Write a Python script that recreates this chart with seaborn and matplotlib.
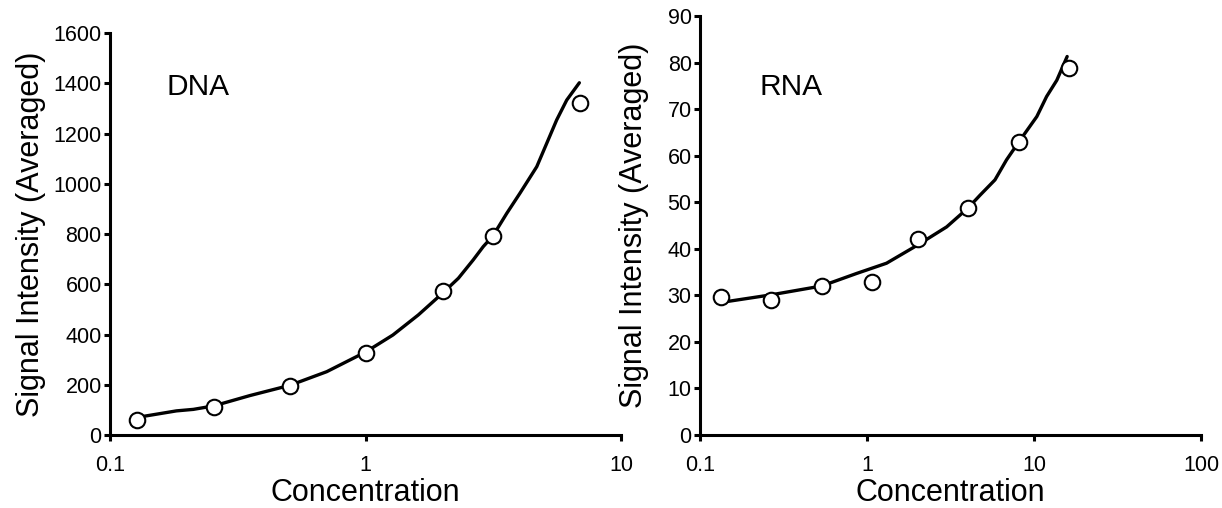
import matplotlib
matplotlib.use("Agg")
import matplotlib.pyplot as plt
import seaborn as sns
from matplotlib.ticker import FixedLocator, NullLocator, FixedFormatter

sns.set_style("ticks")
plt.rcParams['font.family'] = ['Liberation Sans', 'DejaVu Sans']
plt.rcParams['text.color'] = 'black'
plt.rcParams['axes.labelcolor'] = 'black'

# DNA measured points
dna_conc = [0.128, 0.255, 0.507, 1.0, 2.01, 3.15, 6.91]
dna_signal = [60, 113, 195, 328, 574, 792, 1323]
# DNA fitted curve
dna_fit_conc = [0.133, 0.182, 0.212, 0.255, 0.353, 0.507, 0.705, 1.0, 1.28, 1.61,
                2.01, 2.31, 2.64, 2.89, 3.15, 3.57, 4.02, 4.68, 5.12, 5.6, 6.13, 6.87]
dna_fit_signal = [73, 96, 102, 116, 157, 198, 252, 330, 398, 478,
                  566, 624, 697, 750, 792, 882, 962, 1068, 1161, 1254, 1333, 1402]

# RNA measured points
rna_conc = [0.133, 0.266, 0.535, 1.07, 2.01, 4.04, 8.13, 16.2]
rna_signal = [29.6, 29.0, 32.0, 32.9, 42.2, 48.8, 63.0, 78.8]
# RNA fitted curve
rna_fit_conc = [0.141, 0.266, 0.535, 0.867, 1.31, 2.01, 3.0, 4.04, 4.75, 5.84,
                6.85, 8.13, 10.4, 11.9, 13.7, 15.8]
rna_fit_signal = [28.6, 30.1, 32.0, 34.7, 36.9, 40.8, 44.7, 48.8, 51.5, 54.8,
                  59.1, 63.0, 68.4, 72.7, 76.2, 81.3]

dna_xticks = [0.1, 1, 10]
dna_yticks = [0, 200, 400, 600, 800, 1000, 1200, 1400, 1600]
rna_xticks = [0.1, 1, 10, 100]
rna_yticks = [0, 10, 20, 30, 40, 50, 60, 70, 80, 90]

fig = plt.figure(figsize=(12.22, 5.08), dpi=100)
ax1 = fig.add_axes([0.0900, 0.1437, 0.4182, 0.7913])
ax2 = fig.add_axes([0.5728, 0.1437, 0.4100, 0.8248])

panels = [
    (ax1, dna_conc, dna_signal, dna_fit_conc, dna_fit_signal, dna_xticks, dna_yticks,
     (0.1, 10), (0, 1600), "DNA", 0.11, 0.866, 5),
    (ax2, rna_conc, rna_signal, rna_fit_conc, rna_fit_signal, rna_xticks, rna_yticks,
     (0.1, 100), (0, 90), "RNA", 0.118, 0.83, 13),
]

for ax, cx, cy, fx, fy, xt, yt, xl, yl, name, tx, ty, ylpad in panels:
    ax.set_xscale("log")
    sns.lineplot(x=fx, y=fy, ax=ax, color="black", linewidth=2.4, zorder=2)
    sns.scatterplot(x=cx, y=cy, ax=ax, marker="o", s=125, facecolor="white",
                    edgecolor="black", linewidth=1.5, zorder=3)
    ax.set_xlim(*xl)
    ax.set_ylim(*yl)
    ax.xaxis.set_major_locator(FixedLocator(xt))
    ax.xaxis.set_major_formatter(FixedFormatter([("%g" % v) for v in xt]))
    ax.xaxis.set_minor_locator(NullLocator())
    ax.yaxis.set_major_locator(FixedLocator(yt))
    ax.yaxis.set_major_formatter(FixedFormatter([str(v) for v in yt]))
    sns.despine(ax=ax)
    for sp in ("left", "bottom"):
        ax.spines[sp].set_linewidth(2.2)
        ax.spines[sp].set_color("black")
    ax.tick_params(axis="both", which="major", direction="out", length=4.5, width=2.2,
                   labelsize=15.5, colors="black")
    ax.tick_params(axis="x", pad=10)
    ax.tick_params(axis="y", pad=1.5)
    ax.set_xlabel("Concentration", fontsize=22, labelpad=1)
    ax.set_ylabel("Signal Intensity (Averaged)", fontsize=22, labelpad=ylpad)
    ax.text(tx, ty, name, transform=ax.transAxes, fontsize=21.5, va="center", ha="left")
    ax.set_facecolor("white")

fig.savefig("out.png", dpi=100, facecolor="white")
